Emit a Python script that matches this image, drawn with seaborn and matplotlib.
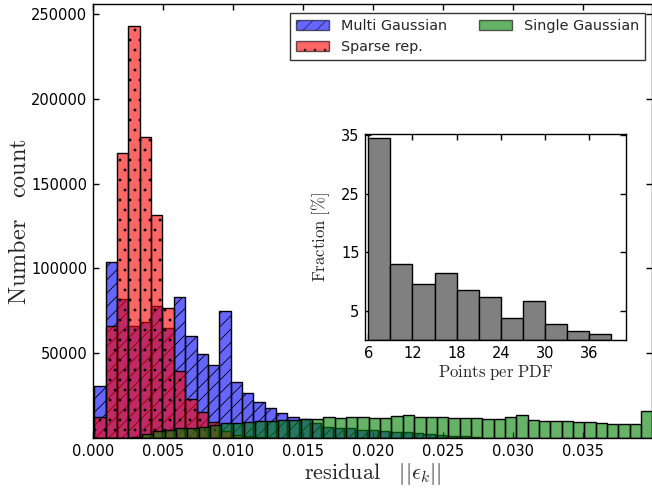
import numpy as np
import pandas as pd
import matplotlib
matplotlib.use("Agg")
import matplotlib.pyplot as plt
from matplotlib.patches import Patch
import seaborn as sns

# ---------------- data ----------------
# main histogram: residual bins (data units)
bin_width = 0.000811
multi_start = 0.0001          # first bin edge, Multi Gaussian / Sparse rep.
single_start = 0.00025        # first bin edge, Single Gaussian

multi_counts = [30700, 103900, 82000, 66100, 68700, 77900, 65100, 83200, 60200,
                49600, 43100, 74800, 32900, 26400, 21000, 17900, 14600, 12200,
                11000, 8700, 6700, 6100, 5700, 5000, 4700, 4300, 3700, 3400,
                3000, 2400, 1900, 1400, 900, 500]
sparse_counts = [12600, 66100, 168000, 242800, 177300, 131600, 76700, 39500,
                 23200, 15200, 9300, 4000, 2000, 1000, 500, 200]
single_counts = [0, 0, 200, 800, 2400, 3900, 4700, 5900, 5900, 6700, 7700, 8700,
                 8700, 9300, 9800, 10200, 10500, 10800, 11200, 11200, 12200,
                 11600, 12200, 12200, 12000, 12000, 13000, 13600, 12600, 12600,
                 12600, 11600, 11600, 12000, 11200, 11300, 12200, 13800, 10400,
                 9800, 9800, 9800, 9200, 9200, 8600, 8300, 8300, 8300, 15700]

series_names = ["Multi Gaussian", "Sparse rep.", "Single Gaussian"]
series_colors = ["blue", "red", "green"]
series_hatches = ["///", "..", None]

# inset histogram
pts_edges_start = 6
pts_bin = 3
fraction_pct = [34.6, 13.0, 9.5, 11.5, 8.57, 7.3, 3.7, 6.7, 2.7, 1.6, 1.0]

x_ticks = [0.000, 0.005, 0.010, 0.015, 0.020, 0.025, 0.030, 0.035]
y_ticks = [50000, 100000, 150000, 200000, 250000]
inset_xticks = [6, 12, 18, 24, 30, 36]
inset_yticks = [5, 15, 25, 35]

# ---------------- style ----------------
DPI = 120
K = 100.0 / DPI   # keeps sizes in pixels equal to a 100-dpi layout

sns.set_style("ticks")
plt.rcParams["font.family"] = ["DejaVu Sans"]
plt.rcParams["mathtext.fontset"] = "cm"
plt.rcParams["hatch.linewidth"] = 0.6 * K

fig = plt.figure(figsize=(652 / DPI, 489 / DPI), dpi=DPI)
ax = fig.add_axes([93 / 652, 51 / 489, 559 / 652, 434 / 489])


def hist_from_counts(counts, start, width, color, hatch, axis, alpha):
    n = len(counts)
    edges = [start + width * i for i in range(n + 1)]
    centers = [0.5 * (edges[i] + edges[i + 1]) for i in range(n)]
    df = pd.DataFrame({"x": centers, "w": counts})
    before = len(axis.patches)
    sns.histplot(data=df, x="x", weights="w", bins=edges, color=color,
                 alpha=alpha, edgecolor="black", linewidth=1.0 * K, ax=axis)
    for p in axis.patches[before:]:
        if hatch:
            p.set_hatch(hatch)


hist_from_counts(multi_counts, multi_start, bin_width, series_colors[0],
                 series_hatches[0], ax, 0.6)
hist_from_counts(sparse_counts, multi_start, bin_width, series_colors[1],
                 series_hatches[1], ax, 0.6)
hist_from_counts(single_counts, single_start, bin_width, series_colors[2],
                 series_hatches[2], ax, 0.6)

ax.set_xlim(0, 0.03996)
ax.set_ylim(0, 256000)
ax.set_xticks(x_ticks)
ax.set_xticklabels([f"{t:.3f}" for t in x_ticks])
ax.set_yticks(y_ticks)
ax.set_yticklabels([str(t) for t in y_ticks])
ax.tick_params(direction="in", top=True, right=True, length=4 * K,
               labelsize=10.5 * K, width=1 * K, colors="black", pad=4 * K)
for s in ax.spines.values():
    s.set_linewidth(1.0 * K)
    s.set_color("black")
ax.set_xlabel(r"$\mathrm{residual}\ \ \ ||\epsilon_k||$", fontsize=16 * K,
              labelpad=2 * K)
ax.set_ylabel(r"$\mathrm{Number}\quad\mathrm{count}$", fontsize=17.5 * K,
              labelpad=0)

handles = [Patch(facecolor=c, alpha=0.6, edgecolor="black", hatch=h, label=n,
                 linewidth=1.0 * K)
           for n, c, h in zip(series_names, series_colors, series_hatches)]
leg = ax.legend(handles=handles, ncol=2, loc="upper right", fontsize=10.4 * K,
                frameon=True, fancybox=False, edgecolor="black",
                bbox_to_anchor=(0.992, 0.985), borderaxespad=0.2,
                handlelength=2.3, columnspacing=2.2)
leg.get_frame().set_linewidth(1.0 * K)

# ---------------- inset ----------------
iax = fig.add_axes([365 / 652, (489 - 340) / 489, 261 / 652, 206 / 489])
n_in = len(fraction_pct)
in_edges = [pts_edges_start + pts_bin * i for i in range(n_in + 1)]
in_centers = [0.5 * (in_edges[i] + in_edges[i + 1]) for i in range(n_in)]
in_df = pd.DataFrame({"x": in_centers, "w": fraction_pct})
sns.histplot(data=in_df, x="x", weights="w", bins=in_edges, color="#808080",
             alpha=1.0, edgecolor="black", linewidth=1.0 * K, ax=iax)
iax.set_xlim(5.55, 41)
iax.set_ylim(0, 35.2)
iax.set_xticks(inset_xticks)
iax.set_yticks(inset_yticks)
iax.tick_params(direction="in", top=True, right=True, length=4 * K,
                labelsize=10.5 * K, width=1 * K, colors="black", pad=4 * K)
for s in iax.spines.values():
    s.set_linewidth(1.0 * K)
    s.set_color("black")
iax.set_xlabel(r"$\mathrm{Points\ per\ PDF}$", fontsize=12 * K, labelpad=2 * K)
iax.set_ylabel(r"$\mathrm{Fraction\ [\%]}$", fontsize=12 * K, labelpad=6 * K)

fig.savefig("out.png", dpi=DPI)
